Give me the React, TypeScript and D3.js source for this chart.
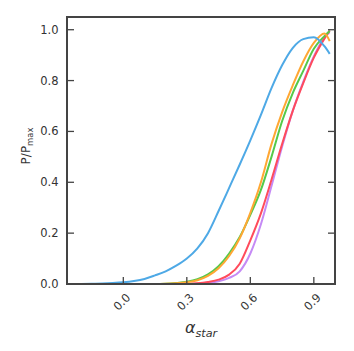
import React from "react";
import * as d3 from "d3";

const alphaStar = [-0.2, -0.15, -0.1, -0.05, 0, 0.05, 0.1, 0.15, 0.2, 0.25, 0.3, 0.35, 0.4, 0.45, 0.5, 0.55, 0.6, 0.65, 0.7, 0.75, 0.8, 0.85, 0.9, 0.95, 0.975];
const blueSeries = [0, 0.001, 0.002, 0.004, 0.007, 0.012, 0.02, 0.034, 0.05, 0.072, 0.1, 0.14, 0.2, 0.287, 0.378, 0.47, 0.565, 0.665, 0.77, 0.86, 0.928, 0.963, 0.97, 0.935, 0.905];
const orangeSeries = [0, 0, 0, 0, 0, 0, 0, 0, 0.001, 0.003, 0.007, 0.015, 0.032, 0.062, 0.11, 0.18, 0.28, 0.4, 0.55, 0.675, 0.78, 0.875, 0.948, 0.985, 0.955];
const greenSeries = [0, 0, 0, 0, 0, 0, 0, 0, 0.001, 0.004, 0.009, 0.019, 0.038, 0.07, 0.12, 0.185, 0.272, 0.37, 0.5, 0.64, 0.75, 0.838, 0.925, 0.975, 0.995];
const redSeries = [0, 0, 0, 0, 0, 0, 0, 0, 0, 0, 0.001, 0.003, 0.008, 0.017, 0.037, 0.08, 0.172, 0.278, 0.41, 0.55, 0.68, 0.79, 0.89, 0.965, 0.997];
const purpleSeries = [0, 0, 0, 0, 0, 0, 0, 0, 0, 0, 0, 0.002, 0.005, 0.011, 0.024, 0.05, 0.12, 0.235, 0.385, 0.54, 0.68, 0.795, 0.895, 0.97, 0.99];

const xTicks = [0.0, 0.3, 0.6, 0.9];
const yTicks = [0.0, 0.2, 0.4, 0.6, 0.8, 1.0];

const seriesList = [
  { name: "purple", values: purpleSeries, color: "#c58af5" },
  { name: "red", values: redSeries, color: "#ff4b5c" },
  { name: "green", values: greenSeries, color: "#55c94a" },
  { name: "orange", values: orangeSeries, color: "#ffa733" },
  { name: "blue", values: blueSeries, color: "#4ea9e6" },
];

const W = 354, H = 351;
const L = 67, R = 335, T = 17, B = 284;
const axisColor = "#444444";
const textColor = "#333333";
const font = "DejaVu Sans, sans-serif";

export default function App() {
  const x = d3.scaleLinear().domain([-0.266, 1.0]).range([L, R]);
  const y = d3.scaleLinear().domain([0, 1.05]).range([B, T]);
  const line = d3
    .line<number>()
    .x((_, i) => x(alphaStar[i]))
    .y((d) => y(d))
    .curve(d3.curveMonotoneX);

  return (
    <svg width={W} height={H} style={{ position: "absolute", left: 0, top: 0, background: "#fff" }}>
      <defs>
        <clipPath id="plot">
          <rect x={L} y={T} width={R - L} height={B - T} />
        </clipPath>
      </defs>
      <g clipPath="url(#plot)">
        {seriesList.map((s) => (
          <path key={s.name} d={line(s.values) || ""} fill="none" stroke={s.color} strokeWidth={2} strokeLinejoin="round" />
        ))}
      </g>
      {yTicks.map((t) => (
        <g key={"y" + t}>
          <line x1={L} x2={L + 7} y1={y(t)} y2={y(t)} stroke={axisColor} strokeWidth={1.3} />
          <line x1={R} x2={R - 7} y1={y(t)} y2={y(t)} stroke={axisColor} strokeWidth={1.3} />
          <text x={58.5} y={y(t)} textAnchor="end" dominantBaseline="central" fontFamily={font} fontSize={11.5} fill={textColor}>
            {t.toFixed(1)}
          </text>
        </g>
      ))}
      {xTicks.map((t) => (
        <g key={"x" + t}>
          <line x1={x(t)} x2={x(t)} y1={B} y2={B - 7} stroke={axisColor} strokeWidth={1.3} />
          <text
            transform={`translate(${x(t) - 1.5},${302}) rotate(-45)`}
            textAnchor="middle"
            dominantBaseline="central"
            fontFamily={font}
            fontSize={11.5}
            fill={textColor}
          >
            {t.toFixed(1)}
          </text>
        </g>
      ))}
      <rect x={L} y={T} width={R - L} height={B - T} fill="none" stroke={axisColor} strokeWidth={2} />
      <text transform={`translate(30,146) rotate(-90)`} textAnchor="middle" fontFamily={font} fontSize={12} fill={textColor}>
        P/P
        <tspan fontSize={8.4} dy={2.5}>max</tspan>
      </text>
      <text x={(L + R) / 2} y={333} textAnchor="middle" fontFamily={font} fontSize={16} fill={textColor} fontStyle="italic">
        α
        <tspan fontSize={11.2} dy={3.5}>star</tspan>
      </text>
    </svg>
  );
}
